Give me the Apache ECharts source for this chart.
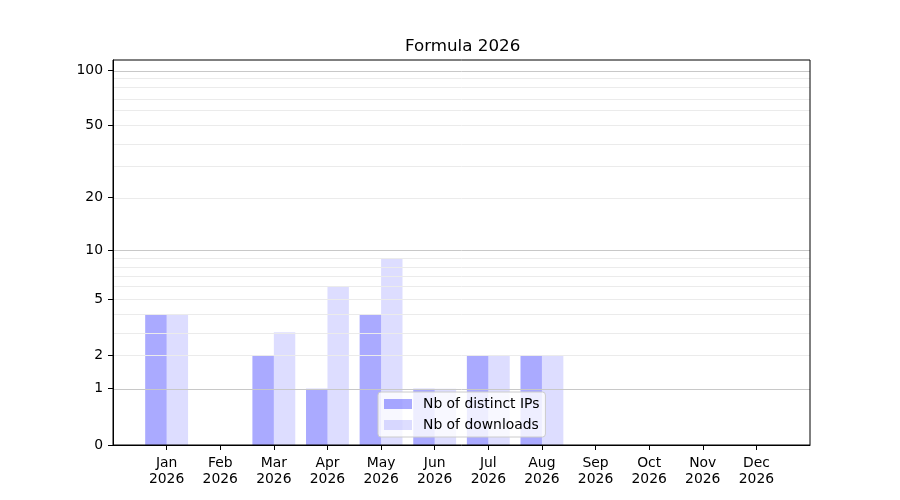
<!DOCTYPE html>
<html>
<head>
<meta charset="utf-8">
<style>
	html, body { margin: 0; padding: 0; background: #fff; }
	#main { width: 900px; height: 500px; }
</style>
<script src="https://cdn.jsdelivr.net/npm/echarts@6/dist/echarts.min.js"></script>
</head>
<body>
<div id="main"></div>
<script>
var months = ["Jan", "Feb", "Mar", "Apr", "May", "Jun", "Jul", "Aug", "Sep", "Oct", "Nov", "Dec"];
var year = "2026";
var distinctIps = [4, 0, 2, 1, 4, 1, 2, 2, 0, 0, 0, 0];
var downloads = [4, 0, 3, 6, 9, 1, 2, 2, 0, 0, 0, 0];
var yTicks = [0, 1, 2, 5, 10, 20, 50, 100];
var majorGrid = [1, 10, 100];
var minorGrid = [2, 3, 4, 5, 6, 7, 8, 9, 20, 30, 40, 50, 60, 70, 80, 90];

// y is drawn as log10(1 + n), like the symlog-ish scale of the original
var tf = function (v) { return Math.log10(1 + v); };
var untf = function (t) { return Math.round(Math.pow(10, t) - 1); };

var font = "DejaVu Sans";
var myChart = echarts.init(document.getElementById("main"));

// one empty slot at each end so the months sit one step away from the frame
var cats = [""];
for (var i = 0; i < months.length; ++i)
	cats.push(months[i] + "\n" + year);
cats.push("");

var pad = function (arr) {
	var out = ["-"];
	for (var i = 0; i < arr.length; ++i)
		out.push(tf(arr[i]));
	out.push("-");
	return out;
};

var gridLines = [];
for (var i = 0; i < minorGrid.length; ++i)
	gridLines.push({ yAxis: tf(minorGrid[i]), lineStyle: { color: "#ebebeb", width: 1, type: "solid" } });
for (var i = 0; i < majorGrid.length; ++i)
	gridLines.push({ yAxis: tf(majorGrid[i]), lineStyle: { color: "#c8c8c8", width: 1, type: "solid" } });

var tickPos = yTicks.map(tf);

var option = {
	animation: false,
	backgroundColor: "#ffffff",
	title: {
		text: "Formula 2026",
		left: 405,
		top: 38,
		padding: 0,
		textStyle: { fontFamily: font, fontSize: 16.7, fontWeight: "normal", color: "#000" }
	},
	grid: {
		left: 113, right: 90, top: 60, bottom: 55,
		show: true, borderColor: "#000", borderWidth: 1, z: 10,
		backgroundColor: "transparent"
	},
	legend: {
		data: ["Nb of distinct IPs", "Nb of downloads"],
		orient: "vertical",
		left: 378,
		top: 392,
		icon: "rect",
		itemWidth: 28,
		itemHeight: 10,
		itemGap: 7,
		padding: [5, 6, 5, 6],
		backgroundColor: "rgba(255,255,255,0.8)",
		borderColor: "#cccccc",
		borderWidth: 1,
		borderRadius: 3,
		textStyle: { fontFamily: font, fontSize: 13.9, color: "#000", padding: [0, 0, 0, 6] }
	},
	xAxis: {
		type: "category",
		data: cats,
		boundaryGap: false,
		z: 10,
		axisLine: { lineStyle: { color: "#000", width: 1 } },
		axisTick: {
			length: 5,
			lineStyle: { color: "#000", width: 1 },
			interval: function (idx) { return idx > 0 && idx < cats.length - 1; }
		},
		axisLabel: {
			interval: 0,
			margin: 10,
			fontFamily: font,
			fontSize: 13.9,
			lineHeight: 16,
			color: "#000"
		},
		splitLine: { show: false }
	},
	yAxis: {
		type: "value",
		min: 0,
		max: 2.058,
		z: 10,
		axisLine: { show: true, lineStyle: { color: "#000", width: 1 } },
		axisTick: { show: true, length: 5, customValues: tickPos, lineStyle: { color: "#000", width: 1 } },
		axisLabel: {
			customValues: tickPos,
			margin: 10,
			fontFamily: font,
			fontSize: 13.9,
			color: "#000",
			padding: [2, 0, 0, 0],
			formatter: function (v) { return "" + untf(v); }
		},
		splitLine: { show: false }
	},
	series: [
		{
			name: "grid",
			type: "line",
			data: [],
			silent: true,
			markLine: {
				silent: true,
				symbol: "none",
				label: { show: false },
				data: gridLines
			}
		},
		{
			name: "Nb of distinct IPs",
			type: "bar",
			data: pad(distinctIps),
			barWidth: "40%",
			barGap: "0%",
			itemStyle: { color: "rgba(0,0,255,0.333)", borderWidth: 0 }
		},
		{
			name: "Nb of downloads",
			type: "bar",
			data: pad(downloads),
			barWidth: "40%",
			barGap: "0%",
			itemStyle: { color: "rgba(0,0,255,0.133)", borderWidth: 0 }
		}
	]
};

myChart.setOption(option);
</script>
</body>
</html>
